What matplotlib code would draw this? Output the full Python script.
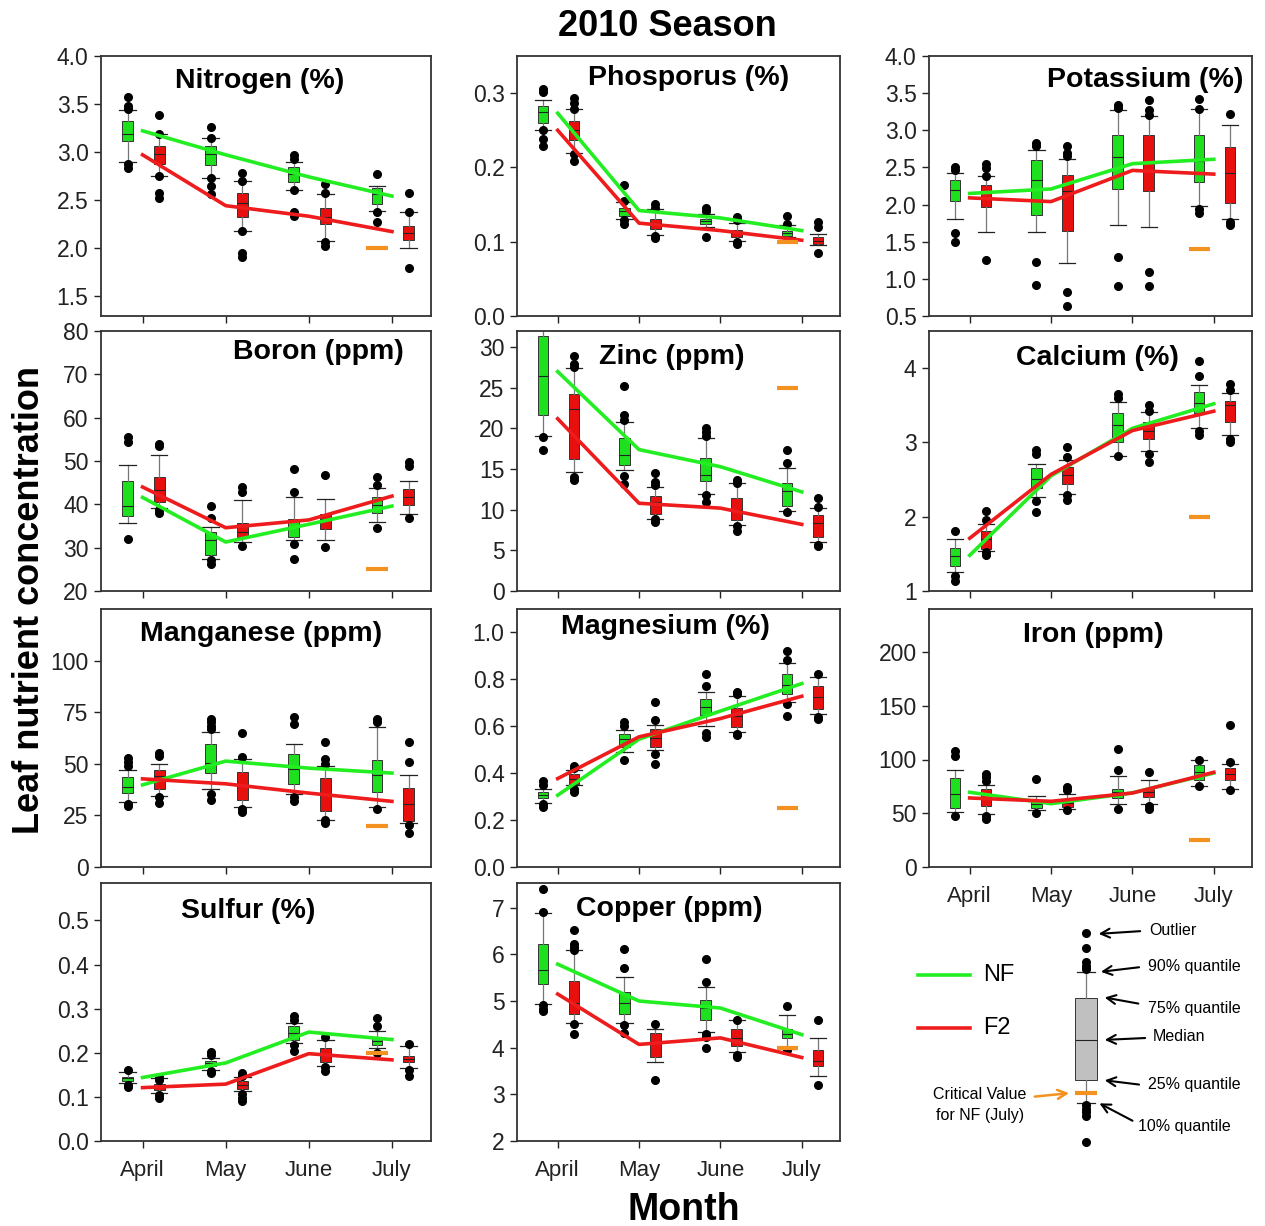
import numpy as np
import matplotlib
matplotlib.use("Agg")
import matplotlib.pyplot as plt

plt.rcParams['font.family'] = ['Liberation Sans', 'DejaVu Sans']

months = ["April", "May", "June", "July"]

# each box: (10%, 25%, median, 75%, 90%) quantiles, April..July
# Nitrogen (%)
n_nf = [(2.90, 3.11, 3.19, 3.32, 3.44), (2.73, 2.86, 2.98, 3.06, 3.15), (2.60, 2.69, 2.77, 2.84, 2.90), (2.38, 2.46, 2.56, 2.62, 2.65)]
n_f2 = [(2.75, 2.87, 2.98, 3.06, 3.19), (2.18, 2.32, 2.47, 2.57, 2.70), (2.07, 2.25, 2.32, 2.42, 2.56), (2.00, 2.08, 2.16, 2.23, 2.37)]
n_nf_out = [[3.57, 3.48, 3.45, 2.87, 2.83], [3.26, 3.15, 2.73, 2.65, 2.56], [2.97, 2.93, 2.60, 2.37, 2.33], [2.77, 2.37, 2.27]]
n_f2_out = [[3.38, 3.19, 2.75, 2.57, 2.52], [2.78, 2.70, 2.18, 1.95, 1.91], [2.67, 2.57, 2.06, 2.02], [2.57, 2.37, 1.79]]
n_nf_mean = [3.22, 2.97, 2.74, 2.54]
n_f2_mean = [2.97, 2.44, 2.33, 2.17]

# Phosporus (%)
p_nf = [(0.250, 0.260, 0.275, 0.283, 0.291), (0.130, 0.135, 0.141, 0.146, 0.153), (0.120, 0.124, 0.128, 0.131, 0.137), (0.106, 0.108, 0.112, 0.115, 0.123)]
p_f2 = [(0.219, 0.237, 0.250, 0.262, 0.278), (0.109, 0.117, 0.125, 0.130, 0.144), (0.101, 0.107, 0.112, 0.116, 0.125), (0.096, 0.097, 0.101, 0.106, 0.111)]
p_nf_out = [[0.306, 0.301, 0.250, 0.238, 0.229], [0.176, 0.155, 0.129, 0.124], [0.145, 0.142, 0.106], [0.135, 0.124]]
p_f2_out = [[0.294, 0.287, 0.278, 0.218, 0.208], [0.151, 0.146, 0.108, 0.105], [0.133, 0.129, 0.100, 0.097], [0.126, 0.120, 0.085]]
p_nf_mean = [0.273, 0.142, 0.132, 0.115]
p_f2_mean = [0.250, 0.125, 0.115, 0.102]

# Potassium (%)
k_nf = [(1.81, 2.05, 2.20, 2.33, 2.42), (1.63, 1.86, 2.33, 2.60, 2.74), (1.72, 2.21, 2.64, 2.94, 3.27), (1.98, 2.30, 2.59, 2.94, 3.28)]
k_f2 = [(1.63, 1.97, 2.09, 2.26, 2.39), (1.21, 1.64, 2.18, 2.40, 2.61), (1.70, 2.18, 2.57, 2.94, 3.19), (1.81, 2.02, 2.42, 2.77, 3.07)]
k_nf_out = [[2.50, 2.47, 1.62, 1.49], [2.83, 2.79, 1.23, 0.92], [3.34, 3.30, 1.30, 0.91], [3.42, 3.28, 1.94, 1.89]]
k_f2_out = [[2.55, 2.49, 2.39, 1.25], [2.79, 2.70, 2.65, 0.82, 0.64], [3.41, 3.27, 3.21, 1.09, 0.90], [3.22, 1.76, 1.72]]
k_nf_mean = [2.15, 2.21, 2.55, 2.61]
k_f2_mean = [2.09, 2.04, 2.46, 2.41]

# Boron (ppm)
b_nf = [(35.8, 37.3, 39.5, 45.4, 49.1), (27.4, 28.4, 31.7, 33.5, 34.7), (31.7, 32.5, 34.8, 36.6, 41.6), (36.0, 37.9, 39.8, 41.6, 43.7)]
b_f2 = [(39.2, 40.5, 43.2, 46.4, 51.3), (31.3, 32.5, 33.6, 35.6, 41.0), (31.7, 34.4, 36.7, 37.7, 41.2), (37.8, 39.8, 41.8, 43.5, 45.4)]
b_nf_out = [[55.5, 54.4, 31.9], [39.6, 36.9, 27.1, 26.3], [48.2, 42.9, 30.8, 27.4], [46.4, 44.5, 34.6]]
b_f2_out = [[54.0, 53.4, 38.7, 37.9], [43.9, 42.9, 30.3], [46.7, 30.2], [49.8, 48.8, 36.9]]
b_nf_mean = [41.6, 31.3, 35.4, 39.6]
b_f2_mean = [44.0, 34.6, 36.4, 41.9]

# Zinc (ppm)
zn_nf = [(19.1, 21.6, 26.4, 31.4, 33.5), (14.9, 15.5, 16.7, 18.8, 20.8), (11.9, 13.5, 14.3, 16.4, 18.8), (9.8, 10.5, 12.3, 13.3, 15.1)]
zn_f2 = [(14.7, 16.2, 22.4, 24.2, 27.4), (8.9, 9.5, 10.9, 11.7, 12.8), (8.1, 8.7, 10.0, 11.4, 13.3), (6.0, 6.7, 8.4, 9.4, 10.2)]
zn_nf_out = [[18.9, 17.4], [25.2, 21.7, 21.0, 14.2, 13.2], [20.1, 19.6, 19.1, 11.8, 10.9], [17.4, 15.7, 9.7]]
zn_f2_out = [[28.9, 27.9, 27.6, 14.0, 13.7], [14.5, 13.4, 13.0, 8.8, 8.5], [13.7, 13.3, 8.0, 7.4], [11.4, 10.3, 5.7, 5.5]]
zn_nf_mean = [27.0, 17.4, 15.3, 12.2]
zn_f2_mean = [21.2, 10.8, 10.2, 8.2]

# Calcium (%)
ca_nf = [(1.25, 1.34, 1.47, 1.58, 1.70), (2.26, 2.39, 2.51, 2.65, 2.71), (2.82, 3.01, 3.23, 3.40, 3.54), (3.19, 3.39, 3.53, 3.68, 3.77)]
ca_f2 = [(1.54, 1.57, 1.70, 1.81, 1.90), (2.31, 2.44, 2.56, 2.67, 2.77), (2.88, 3.05, 3.16, 3.28, 3.41), (3.10, 3.27, 3.51, 3.56, 3.67)]
ca_nf_out = [[1.81, 1.20, 1.14], [2.90, 2.84, 2.21, 2.06], [3.65, 3.60, 2.82], [4.09, 3.90, 3.16, 3.10]]
ca_f2_out = [[2.08, 1.95, 1.52, 1.48], [2.94, 2.81, 2.29, 2.23], [3.51, 3.42, 2.84, 2.74], [3.79, 3.71, 3.05, 3.00]]
ca_nf_mean = [1.48, 2.55, 3.19, 3.52]
ca_f2_mean = [1.71, 2.57, 3.16, 3.42]

# Manganese (ppm)
mn_nf = [(31.5, 36.0, 39.0, 43.5, 47.0), (37.9, 45.5, 50.5, 59.7, 65.6), (35.5, 40.3, 47.6, 54.8, 59.7), (29.0, 36.3, 44.8, 51.6, 67.7)]
mn_f2 = [(34.2, 37.9, 44.0, 47.1, 50.0), (29.0, 32.3, 39.5, 46.0, 52.1), (22.9, 27.1, 34.7, 43.1, 48.7), (21.5, 22.3, 30.3, 38.4, 44.8)]
mn_nf_out = [[53.0, 51.0, 49.0, 30.3, 29.4], [71.8, 70.2, 68.5, 67.0, 35.2, 32.7], [72.9, 69.4, 33.9, 31.9], [71.8, 70.2, 28.2]]
mn_f2_out = [[55.2, 54.0, 33.9, 31.0], [64.8, 53.2, 28.2, 26.6], [60.5, 52.4, 50.0, 22.6, 21.3], [60.5, 50.8, 20.2, 16.6]]
mn_nf_mean = [39.8, 51.3, 47.9, 45.5]
mn_f2_mean = [42.7, 40.3, 35.8, 31.8]

# Magnesium (%)
mg_nf = [(0.275, 0.296, 0.309, 0.320, 0.334), (0.491, 0.512, 0.545, 0.569, 0.586), (0.600, 0.647, 0.683, 0.718, 0.747), (0.704, 0.737, 0.775, 0.822, 0.868)]
mg_f2 = [(0.349, 0.356, 0.377, 0.398, 0.413), (0.498, 0.512, 0.552, 0.590, 0.607), (0.576, 0.595, 0.643, 0.676, 0.728), (0.654, 0.673, 0.725, 0.772, 0.811)]
mg_nf_out = [[0.366, 0.351, 0.267, 0.256], [0.619, 0.600, 0.458], [0.825, 0.771, 0.572, 0.555], [0.922, 0.882, 0.694, 0.643]]
mg_f2_out = [[0.430, 0.420, 0.334, 0.320], [0.704, 0.626, 0.481, 0.441], [0.747, 0.737, 0.569, 0.562], [0.822, 0.640, 0.629]]
mg_nf_mean = [0.306, 0.545, 0.665, 0.782]
mg_f2_mean = [0.377, 0.555, 0.633, 0.728]

# Iron (ppm)
fe_nf = [(50.9, 54.9, 68.2, 82.8, 89.9), (52.7, 54.9, 58.9, 62.6, 66.4), (58.9, 64.2, 69.5, 72.9, 84.3), (75.0, 81.2, 88.1, 95.2, 99.2)]
fe_f2 = [(49.3, 56.4, 63.6, 72.6, 76.6), (54.3, 55.8, 59.5, 63.3, 67.9), (58.9, 64.8, 69.5, 72.6, 81.2), (72.9, 81.2, 86.8, 92.1, 96.1)]
fe_nf_out = [[107.6, 103.6, 47.1], [82.2, 50.2], [110.1, 90.5, 54.0], [99.8, 75.0]]
fe_f2_out = [[86.8, 83.4, 79.7, 47.8, 45.0], [74.1, 71.3, 52.7], [88.1, 56.4, 54.0], [132.4, 97.4, 71.9]]
fe_nf_mean = [69.5, 58.9, 69.0, 87.4]
fe_f2_mean = [64.2, 61.1, 68.8, 88.1]

# Sulfur (%)
s_nf = [(0.131, 0.136, 0.142, 0.146, 0.156), (0.161, 0.169, 0.177, 0.182, 0.188), (0.222, 0.230, 0.245, 0.260, 0.268), (0.211, 0.218, 0.226, 0.236, 0.250)]
s_f2 = [(0.108, 0.116, 0.123, 0.129, 0.142), (0.113, 0.119, 0.127, 0.135, 0.145), (0.169, 0.180, 0.196, 0.212, 0.230), (0.165, 0.178, 0.186, 0.192, 0.215)]
s_nf_out = [[0.161, 0.127, 0.123], [0.202, 0.196, 0.158, 0.154], [0.283, 0.275, 0.218, 0.205], [0.279, 0.260, 0.199]]
s_f2_out = [[0.144, 0.139, 0.104, 0.098], [0.154, 0.148, 0.106, 0.098, 0.091], [0.235, 0.167, 0.159], [0.220, 0.161, 0.148]]
s_nf_mean = [0.144, 0.177, 0.247, 0.230]
s_f2_mean = [0.121, 0.129, 0.198, 0.184]

# Copper (ppm)
cu_nf = [(4.93, 5.36, 5.66, 6.22, 6.89), (4.52, 4.72, 4.96, 5.20, 5.52), (4.33, 4.60, 4.86, 5.03, 5.31), (3.97, 4.20, 4.29, 4.40, 4.70)]
cu_f2 = [(4.52, 4.72, 4.96, 5.42, 6.10), (3.70, 3.81, 4.12, 4.31, 4.41), (3.90, 4.04, 4.21, 4.39, 4.60), (3.40, 3.60, 3.71, 3.96, 4.20)]
cu_nf_out = [[7.41, 6.91, 4.91, 4.84, 4.79], [6.11, 5.70, 4.49, 4.31], [5.91, 5.40, 4.29, 4.22, 3.99], [4.90, 3.96]]
cu_f2_out = [[6.52, 6.23, 6.16, 6.10, 4.51, 4.29], [4.51, 3.30], [4.60, 3.84, 3.79], [4.60, 3.20]]
cu_nf_mean = [5.79, 5.00, 4.85, 4.28]
cu_f2_mean = [5.15, 4.07, 4.21, 3.79]

# critical value for NF (July)
crit = [2.0, 0.1, 1.4, 25, 25, 2.0, 20, 0.25, 25, 0.2, 4.0]

titles = ["Nitrogen (%)", "Phosporus (%)", "Potassium (%)", "Boron (ppm)", "Zinc (ppm)",
          "Calcium (%)", "Manganese (ppm)", "Magnesium (%)", "Iron (ppm)", "Sulfur (%)", "Copper (ppm)"]

data = [(n_nf, n_f2, n_nf_out, n_f2_out, n_nf_mean, n_f2_mean),
        (p_nf, p_f2, p_nf_out, p_f2_out, p_nf_mean, p_f2_mean),
        (k_nf, k_f2, k_nf_out, k_f2_out, k_nf_mean, k_f2_mean),
        (b_nf, b_f2, b_nf_out, b_f2_out, b_nf_mean, b_f2_mean),
        (zn_nf, zn_f2, zn_nf_out, zn_f2_out, zn_nf_mean, zn_f2_mean),
        (ca_nf, ca_f2, ca_nf_out, ca_f2_out, ca_nf_mean, ca_f2_mean),
        (mn_nf, mn_f2, mn_nf_out, mn_f2_out, mn_nf_mean, mn_f2_mean),
        (mg_nf, mg_f2, mg_nf_out, mg_f2_out, mg_nf_mean, mg_f2_mean),
        (fe_nf, fe_f2, fe_nf_out, fe_f2_out, fe_nf_mean, fe_f2_mean),
        (s_nf, s_f2, s_nf_out, s_f2_out, s_nf_mean, s_f2_mean),
        (cu_nf, cu_f2, cu_nf_out, cu_f2_out, cu_nf_mean, cu_f2_mean)]

# axis setup: ylim, yticks, tick format, title x/y (axes fraction)
ylims = [(1.29, 4.0), (0, 0.35), (0.5, 4.0), (20, 80), (0, 32), (1, 4.5),
         (0, 125), (0, 1.1), (0, 240), (0, 0.585), (2, 7.53)]
yticks = [np.arange(1.5, 4.01, 0.5), np.arange(0, 0.31, 0.1), np.arange(0.5, 4.01, 0.5),
          np.arange(20, 81, 10), np.arange(0, 31, 5), [1, 2, 3, 4], np.arange(0, 101, 25),
          np.arange(0, 1.01, 0.2), np.arange(0, 201, 50), np.arange(0, 0.51, 0.1), np.arange(2, 8, 1)]
yfmt = ["{:.1f}", "{:.1f}", "{:.1f}", "{:.0f}", "{:.0f}", "{:.0f}", "{:.0f}", "{:.1f}", "{:.0f}", "{:.1f}", "{:.0f}"]
title_x = [0.48, 0.53, 0.67, 0.66, 0.48, 0.52, 0.485, 0.46, 0.51, 0.445, 0.47]
title_y = [0.905, 0.915, 0.908, 0.92, 0.90, 0.895, 0.903, 0.93, 0.90, 0.89, 0.90]

W, H = 1265, 1226
cols = [(101, 431), (517, 840), (929, 1252)]
rows = [(56, 316), (331, 591), (609, 867), (883, 1141)]

NF_BOX, F2_BOX = "#1ee01e", "#e80f0f"
NF_LINE, F2_LINE = "#22ee22", "#ee1c1c"
ORANGE = "#f39220"
NF_DX, F2_DX = -0.18, 0.20


def frac(x0, y0, x1, y1):
    return [x0 / W, 1 - y1 / H, (x1 - x0) / W, (y1 - y0) / H]


def box_stats(q, out):
    return [dict(whislo=a[0], q1=a[1], med=a[2], q3=a[3], whishi=a[4], fliers=o) for a, o in zip(q, out)]


def draw_boxes(ax, st, pos, color, width=0.13, capw=0.2):
    ax.bxp(st, positions=pos, widths=width, capwidths=capw, patch_artist=True, manage_ticks=False,
           boxprops=dict(facecolor=color, edgecolor="#333333", linewidth=0.7),
           medianprops=dict(color="#222222", linewidth=0.8),
           whiskerprops=dict(color="#777777", linewidth=0.9),
           capprops=dict(color="#222222", linewidth=0.9),
           flierprops=dict(marker="o", markerfacecolor="k", markeredgecolor="k", markersize=5.5))


fig = plt.figure(figsize=(W / 100, H / 100), dpi=100)
x = np.arange(1, 5)

for i, (nf, f2, nf_out, f2_out, nf_mean, f2_mean) in enumerate(data):
    r, c = divmod(i, 3)
    ax = fig.add_axes(frac(cols[c][0], rows[r][0], cols[c][1], rows[r][1]))
    draw_boxes(ax, box_stats(nf, nf_out), x + NF_DX, NF_BOX)
    draw_boxes(ax, box_stats(f2, f2_out), x + F2_DX, F2_BOX)
    ax.plot(x, nf_mean, color=NF_LINE, lw=2.6, zorder=3)
    ax.plot(x, f2_mean, color=F2_LINE, lw=2.6, zorder=3)
    ax.hlines(crit[i], 4 + NF_DX - 0.13, 4 + NF_DX + 0.13, color=ORANGE, lw=3, zorder=3)

    ax.set_xlim(0.5, 4.47)
    ax.set_ylim(*ylims[i])
    ax.set_xticks(x)
    if i in (8, 9, 10):
        ax.set_xticklabels(months, fontsize=16)
    else:
        ax.set_xticklabels([])
    ax.set_yticks(yticks[i])
    ax.set_yticklabels([yfmt[i].format(v) for v in yticks[i]], fontsize=16.5)
    ax.tick_params(direction="out", length=5, width=1, colors="#222222", pad=4)
    ax.tick_params(axis="x", pad=9)
    for sp in ax.spines.values():
        sp.set_linewidth(1.3)
        sp.set_color("#333333")
    ax.text(title_x[i], title_y[i], titles[i], transform=ax.transAxes, ha="center", va="center",
            fontsize=20.5, fontweight="bold")

fig.text(667 / W, 1 - 27 / H, "2010 Season", ha="center", va="center", fontsize=26, fontweight="bold")
fig.text(30 / W, 1 - 600 / H, "Leaf nutrient concentration", ha="center", va="center", rotation=90,
         fontsize=26, fontweight="bold")
fig.text(684 / W, 1 - 1210 / H, "Month", ha="center", va="center", fontsize=27, fontweight="bold")

# key panel (schematic box and legend)
key_med, key_q1, key_q3 = 0.468, 0.298, 0.647
key_lo, key_hi = 0.20, 0.757
key_out = [0.923, 0.86, 0.80, 0.785, 0.77, 0.19, 0.175, 0.16, 0.145, 0.034]
kx = 0.542

kax = fig.add_axes(frac(880, 915, 1260, 1150))
kax.set_xlim(0, 1)
kax.set_ylim(0, 1)
kax.axis("off")
draw_boxes(kax, [dict(whislo=key_lo, q1=key_q1, med=key_med, q3=key_q3, whishi=key_hi, fliers=key_out)],
           [kx], "#c0c0c0", width=0.058, capw=0.045)
kax.hlines(0.243, kx - 0.029, kx + 0.029, color=ORANGE, lw=3, zorder=3)

kax.plot([0.10, 0.237], [0.745, 0.745], color=NF_LINE, lw=2.6)
kax.plot([0.10, 0.237], [0.519, 0.519], color=F2_LINE, lw=2.6)
kax.text(0.271, 0.745, "NF", fontsize=17, va="center")
kax.text(0.271, 0.519, "F2", fontsize=17, va="center")

arrow = dict(arrowstyle="->", color="k", lw=1.5, mutation_scale=16)
notes = [("Outlier", (0.708, 0.932), (0.692, 0.932), (0.568, 0.919)),
         ("90% quantile", (0.705, 0.779), (0.689, 0.779), (0.574, 0.757)),
         ("75% quantile", (0.705, 0.60), (0.687, 0.621), (0.584, 0.651)),
         ("Median", (0.718, 0.481), (0.705, 0.477), (0.584, 0.468)),
         ("25% quantile", (0.705, 0.277), (0.689, 0.277), (0.584, 0.298)),
         ("10% quantile", (0.679, 0.102), (0.671, 0.119), (0.571, 0.204))]
for label, tpos, a0, a1 in notes:
    kax.annotate("", xy=a1, xytext=a0, arrowprops=arrow)
    kax.text(tpos[0], tpos[1], label, fontsize=11.5, va="center", ha="left")

kax.text(0.263, 0.19, "Critical Value\nfor NF (July)", fontsize=11.5, ha="center", va="center", linespacing=1.5)
kax.annotate("", xy=(0.505, 0.243), xytext=(0.40, 0.226),
             arrowprops=dict(arrowstyle="->", color=ORANGE, lw=1.8, mutation_scale=16))

fig.savefig("out.png", dpi=100)
